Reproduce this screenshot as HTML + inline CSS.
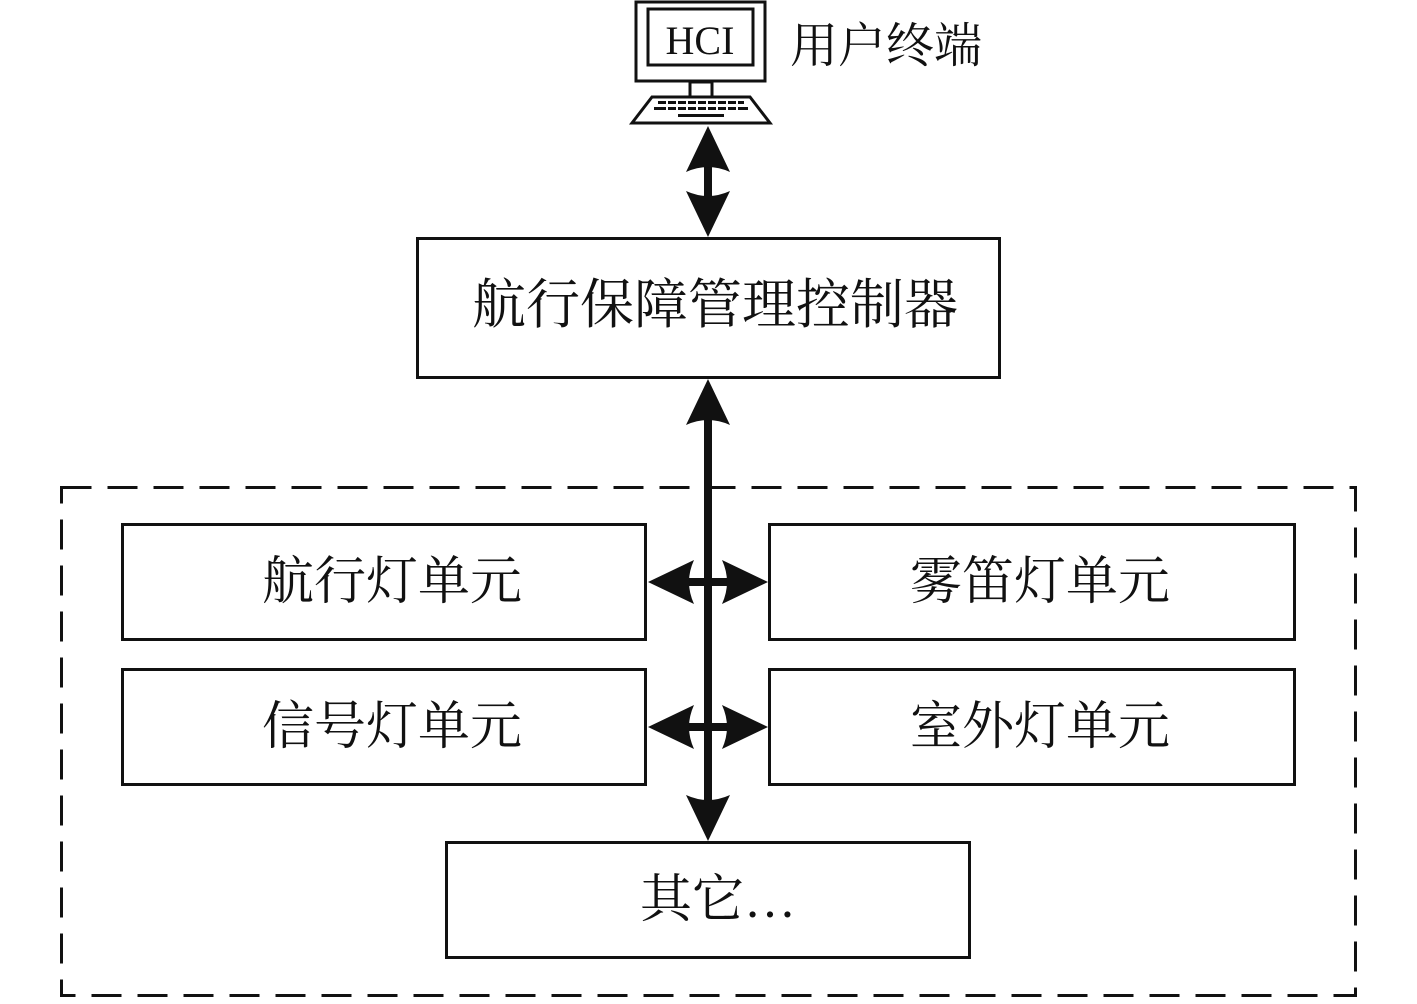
<!DOCTYPE html>
<html><head><meta charset="utf-8"><style>
html,body{margin:0;padding:0;background:#fff;}
text{font-family:"Liberation Serif","Noto Serif CJK SC",serif;fill:#111;}
</style></head><body>
<svg width="1417" height="999" viewBox="0 0 1417 999" xmlns="http://www.w3.org/2000/svg">
<defs>
<path id="ah" d="M0,0 L-22,-46 Q0,-36 22,-46 Z" fill="#111"/>
</defs>
<!-- monitor -->
<rect x="636" y="2" width="129" height="79" fill="none" stroke="#111" stroke-width="3"/>
<rect x="648" y="9" width="105" height="56" fill="none" stroke="#111" stroke-width="3"/>
<text x="700" y="54" font-size="40" text-anchor="middle">HCI</text>
<rect x="690" y="82" width="22" height="15" fill="none" stroke="#111" stroke-width="3"/>
<path d="M652,97 L750,97 L770,123 L632,123 Z" fill="none" stroke="#111" stroke-width="3"/>
<g fill="#111">
<rect x="658" y="101" width="86" height="3"/>
<rect x="654" y="107" width="94" height="3"/>
<rect x="678" y="114" width="46" height="3"/>
</g>
<g stroke="#fff" stroke-width="2">
<line x1="667" y1="100" x2="667" y2="111"/><line x1="677" y1="100" x2="677" y2="111"/><line x1="687" y1="100" x2="687" y2="111"/><line x1="697" y1="100" x2="697" y2="111"/><line x1="707" y1="100" x2="707" y2="111"/><line x1="717" y1="100" x2="717" y2="111"/><line x1="727" y1="100" x2="727" y2="111"/><line x1="737" y1="100" x2="737" y2="111"/>
</g>
<text x="790" y="62" font-size="48" font-family="Noto Sans CJK SC">用户终端</text>
<!-- top arrow -->
<rect x="704" y="160" width="8" height="45" fill="#111"/>
<use href="#ah" transform="translate(708,126) rotate(180)"/>
<use href="#ah" transform="translate(708,237)"/>
<!-- controller -->
<rect x="417.5" y="238.5" width="582" height="139" fill="none" stroke="#111" stroke-width="3"/>
<text x="715" y="323" font-size="54" text-anchor="middle">航行保障管理控制器</text>
<!-- dashed -->
<rect x="61.5" y="487.5" width="1294" height="508" fill="none" stroke="#111" stroke-width="3" stroke-dasharray="30,16"/>
<!-- boxes -->
<g fill="none" stroke="#111" stroke-width="3">
<rect x="122.5" y="524.5" width="523" height="115"/>
<rect x="769.5" y="524.5" width="525" height="115"/>
<rect x="122.5" y="669.5" width="523" height="115"/>
<rect x="769.5" y="669.5" width="525" height="115"/>
<rect x="446.5" y="842.5" width="523" height="115"/>
</g>
<g font-size="52" text-anchor="middle">
<text x="392" y="599">航行灯单元</text>
<text x="1040" y="599">雾笛灯单元</text>
<text x="392" y="744">信号灯单元</text>
<text x="1040" y="744">室外灯单元</text>
<text x="718" y="917">其它…</text>
</g>
<!-- central arrow -->
<rect x="704" y="410" width="8" height="400" fill="#111"/>
<use href="#ah" transform="translate(708,379) rotate(180)"/>
<use href="#ah" transform="translate(708,841)"/>
<rect x="680" y="578" width="56" height="8" fill="#111"/>
<rect x="680" y="723" width="56" height="8" fill="#111"/>
<use href="#ah" transform="translate(648,582) rotate(90)"/>
<use href="#ah" transform="translate(768,582) rotate(-90)"/>
<use href="#ah" transform="translate(648,727) rotate(90)"/>
<use href="#ah" transform="translate(768,727) rotate(-90)"/>
</svg>
</body></html>
